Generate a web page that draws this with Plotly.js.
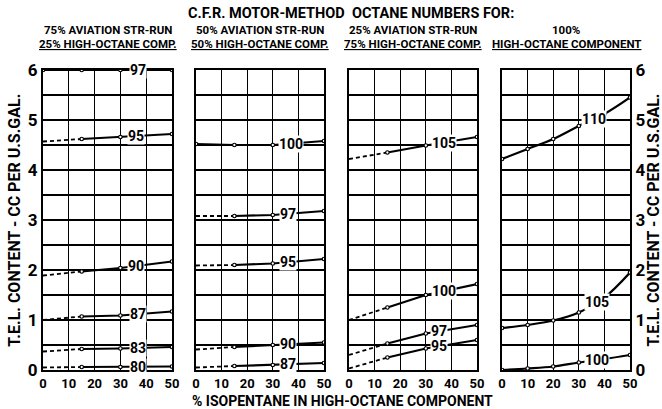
<!DOCTYPE html>
<html>
<head>
<meta charset="utf-8">
<script src="https://cdn.plot.ly/plotly-3.0.1.min.js"></script>
<style>html,body{margin:0;padding:0;background:#fff;}#chart{width:662px;height:409px;}</style>
</head>
<body>
<div id="chart"></div>
<script>
// ---- Data ----
const xTicks = [0, 10, 20, 30, 40, 50];
const yTicks = [0, 1, 2, 3, 4, 5, 6];

const panelTitles1 = ["75% AVIATION STR-RUN", "50% AVIATION STR-RUN", "25% AVIATION STR-RUN", "100%"];
const panelTitles2 = ["25% HIGH-OCTANE COMP.", "50% HIGH-OCTANE COMP.", "75% HIGH-OCTANE COMP.", "HIGH-OCTANE COMPONENT"];

// Panel 1: 75% straight-run / 25% high-octane
const x1 = [0, 15, 30, 50];
const p1_97 = [6.0, 6.0, 6.0, 6.0];
const p1_95 = [4.57, 4.62, 4.66, 4.72];
const p1_90 = [1.89, 1.97, 2.04, 2.17];
const p1_87 = [1.0, 1.07, 1.09, 1.17];
const p1_83 = [0.37, 0.42, 0.43, 0.46];
const p1_80 = [0.05, 0.06, 0.06, 0.07];

// Panel 2: 50% / 50%
const x2 = [0, 15, 30, 50];
const p2_100 = [4.52, 4.5, 4.5, 4.58];
const p2_97 = [3.08, 3.08, 3.1, 3.18];
const p2_95 = [2.09, 2.1, 2.13, 2.22];
const p2_90 = [0.41, 0.46, 0.5, 0.55];
const p2_87 = [0.05, 0.08, 0.1, 0.14];

// Panel 3: 25% / 75%
const x3 = [0, 15, 30, 50];
const p3_105 = [4.22, 4.35, 4.49, 4.66];
const p3_100 = [1.0, 1.25, 1.5, 1.72];
const p3_97 = [0.3, 0.53, 0.73, 0.9];
const p3_95 = [0.03, 0.25, 0.43, 0.6];

// Panel 4: 100% high-octane component
const x4 = [0, 10, 20, 30, 40, 50];
const p4_110 = [4.22, 4.42, 4.62, 4.88, 5.12, 5.45];
const p4_105 = [0.84, 0.9, 0.99, 1.15, 1.45, 1.95];
const p4_100 = [0.0, 0.03, 0.07, 0.15, 0.22, 0.3];

// ---- Curve definitions: [panel, label, x, y, dashed-until-x, label-x] ----
const curves = [
  [1, "97", x1, p1_97, 0, 37],
  [1, "95", x1, p1_95, 15, 36],
  [1, "90", x1, p1_90, 15, 36],
  [1, "87", x1, p1_87, 15, 37],
  [1, "83", x1, p1_83, 15, 37],
  [1, "80", x1, p1_80, 15, 37],
  [2, "100", x2, p2_100, 0, 37],
  [2, "97", x2, p2_97, 15, 36],
  [2, "95", x2, p2_95, 15, 36],
  [2, "90", x2, p2_90, 15, 36],
  [2, "87", x2, p2_87, 15, 36],
  [3, "105", x3, p3_105, 15, 37],
  [3, "100", x3, p3_100, 15, 37],
  [3, "97", x3, p3_97, 15, 35],
  [3, "95", x3, p3_95, 15, 35],
  [4, "110", x4, p4_110, 0, 36],
  [4, "105", x4, p4_105, 0, 37],
  [4, "100", x4, p4_100, 0, 37]
];

const FONT = "Roboto, Liberation Sans, sans-serif";
const domains = [[0, 0.2198], [0.2606, 0.4787], [0.5213, 0.7394], [0.782, 1.0]];

function interp(xs, ys, x) {
  for (let i = 0; i < xs.length - 1; i++) {
    if (x >= xs[i] && x <= xs[i + 1]) {
      const t = (x - xs[i]) / (xs[i + 1] - xs[i]);
      return ys[i] + t * (ys[i + 1] - ys[i]);
    }
  }
  return ys[ys.length - 1];
}

const traces = [];
const annotations = [];
curves.forEach(c => {
  const [p, lab, xs, ys, dashEnd, lx] = c;
  const xa = "x" + p, ya = "y" + p;
  const shape = p === 4 ? "spline" : "linear";
  if (dashEnd > 0) {
    const dx = [], dy = [];
    xs.forEach((x, i) => { if (x <= dashEnd) { dx.push(x); dy.push(ys[i]); } });
    traces.push({x: dx, y: dy, xaxis: xa, yaxis: ya, mode: "lines",
      line: {color: "#000", width: 1.8, dash: "4px,3px", shape: shape}, hoverinfo: "skip"});
  }
  const sx = [], sy = [];
  xs.forEach((x, i) => { if (x >= dashEnd) { sx.push(x); sy.push(ys[i]); } });
  traces.push({x: sx, y: sy, xaxis: xa, yaxis: ya, mode: "lines+markers",
    line: {color: "#000", width: 2.2, shape: shape},
    marker: {size: 3.5, color: "#fff", line: {color: "#000", width: 1.2}}, hoverinfo: "skip"});
  annotations.push({xref: xa, yref: ya, x: lx, y: interp(xs, ys, lx), text: "<b>" + lab + "</b>",
    showarrow: false, bgcolor: "#fff", borderpad: 0,
    font: {family: FONT, size: 14, color: "#000"}});
});

const layout = {
  width: 662, height: 409,
  margin: {l: 43, r: 32, t: 70, b: 39},
  paper_bgcolor: "#fff", plot_bgcolor: "#fff",
  showlegend: false,
  font: {family: FONT, color: "#000"},
  annotations: annotations
};

for (let i = 1; i <= 4; i++) {
  const sfx = i === 1 ? "" : String(i);
  layout["xaxis" + sfx] = {
    domain: domains[i - 1], range: [0, 50], anchor: "y" + i,
    tickvals: xTicks, ticktext: xTicks.map(String),
    showgrid: true, gridcolor: "#000", gridwidth: 1.3,
    showline: true, mirror: true, linecolor: "#000", linewidth: 2,
    zeroline: false, ticks: "", fixedrange: true, ticklabelstandoff: 0,
    tickfont: {family: FONT, size: 13, color: "#000", weight: "bold"}
  };
  const yTickVals = [];
  const yTickText = [];
  for (let v = 0; v <= 6; v += 0.5) { yTickVals.push(v); yTickText.push(Number.isInteger(v) ? String(v) : ""); }
  layout["yaxis" + sfx] = {
    domain: [0, 1], range: [0, 6], anchor: "x" + i,
    tickvals: yTickVals, ticktext: yTickText,
    showticklabels: i === 1 || i === 4,
    side: i === 4 ? "right" : "left",
    showgrid: true, gridcolor: "#000", gridwidth: 1.3,
    showline: true, mirror: true, linecolor: "#000", linewidth: 2,
    zeroline: false, ticks: "", fixedrange: true,
    tickfont: {family: FONT, size: 17, color: "#000", weight: "bold"}
  };
}

// Titles
const boldFont = (s) => ({family: FONT, size: s, color: "#000", weight: "bold"});
annotations.push({xref: "paper", yref: "paper", x: 0.525, y: 1.19, xanchor: "center", yanchor: "middle",
  text: "C.F.R. MOTOR-METHOD  OCTANE NUMBERS FOR:", showarrow: false, font: boldFont(14.5)});
domains.forEach((d, i) => {
  const cx = (d[0] + d[1]) / 2;
  annotations.push({xref: "paper", yref: "paper", x: cx, y: 1.133, xanchor: "center", yanchor: "middle",
    text: panelTitles1[i], showarrow: false, font: boldFont(11.5)});
  annotations.push({xref: "paper", yref: "paper", x: cx, y: 1.087, xanchor: "center", yanchor: "middle",
    text: panelTitles2[i], showarrow: false,
    font: {family: FONT, size: 11.5, color: "#000", weight: "bold", lineposition: "under"}});
});
annotations.push({xref: "paper", yref: "paper", x: 0.511, y: -0.102, xanchor: "center", yanchor: "middle",
  text: "% ISOPENTANE IN HIGH-OCTANE COMPONENT", showarrow: false, font: boldFont(14)});
annotations.push({xref: "paper", yref: "paper", x: -0.05, y: 0.5, xanchor: "center", yanchor: "middle",
  text: "T.E.L. CONTENT - CC PER U.S.GAL.", textangle: -90, showarrow: false, font: boldFont(16)});
annotations.push({xref: "paper", yref: "paper", x: 1.04, y: 0.5, xanchor: "center", yanchor: "middle",
  text: "T.E.L. CONTENT - CC PER U.S.GAL.", textangle: -90, showarrow: false, font: boldFont(16)});

Plotly.newPlot("chart", traces, layout, {displayModeBar: false, staticPlot: true});
</script>
</body>
</html>
